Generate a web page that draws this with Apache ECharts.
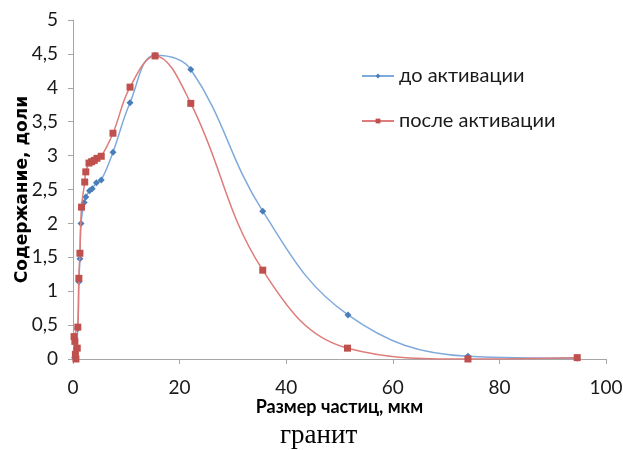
<!DOCTYPE html>
<html>
<head>
<meta charset="utf-8">
<script src="https://cdn.jsdelivr.net/npm/echarts@6/dist/echarts.min.js"></script>
<style>
  html, body { margin: 0; padding: 0; background: #fff; }
  #chart { width: 623px; height: 450px; }
</style>
</head>
<body>
<div id="chart"></div>
<script>
// до активации
const beforeX = [0.3, 0.6, 0.9, 1.1, 1.3, 1.5, 2.1, 2.4, 3.1, 3.6, 4.4, 5.3, 7.5, 10.7, 15.4, 22.1, 35.6, 51.6, 74.1, 94.6];
const beforeY = [0.02, 0.15, 0.45, 1.14, 1.48, 2.0, 2.31, 2.39, 2.48, 2.51, 2.6, 2.64, 3.05, 3.78, 4.48, 4.27, 2.18, 0.65, 0.04, 0.01];

// после активации
const afterX = [0.55, 0.45, 0.8, 0.35, 0.2, 0.9, 1.1, 1.3, 1.6, 2.2, 2.4, 3.0, 3.5, 4.0, 4.5, 5.3, 7.5, 10.7, 15.4, 22.1, 35.6, 51.5, 74.1, 94.6];
const afterY = [0.0, 0.07, 0.16, 0.26, 0.33, 0.47, 1.19, 1.56, 2.24, 2.61, 2.76, 2.89, 2.91, 2.93, 2.96, 2.99, 3.33, 4.01, 4.47, 3.77, 1.31, 0.16, 0.0, 0.02];

const seriesNames = ["до активации", "после активации"];
const xTicks = [0, 20, 40, 60, 80, 100];

const chart = echarts.init(document.getElementById("chart"));

const pairs = (xs, ys) => xs.map((x, i) => [x, ys[i]]);

const option = {
  animation: false,
  title: {
    text: "гранит",
    left: 275,
    top: 417,
    textStyle: { fontFamily: "Liberation Serif", fontSize: 27, fontWeight: "normal", color: "#000" },
  },
  legend: {
    orient: "vertical",
    left: 356,
    top: 61,
    itemGap: 25,
    itemWidth: 32,
    itemHeight: 6,
    textStyle: { fontFamily: "Lato", fontSize: 20, color: "#1a1a1a" },
    data: seriesNames,
  },
  grid: { left: 73, right: 17, top: 20, bottom: 91, outerBoundsMode: "none" },
  xAxis: {
    type: "value",
    min: xTicks[0],
    max: xTicks[xTicks.length - 1],
    interval: 20,
    name: "Размер частиц, мкм",
    nameLocation: "middle",
    nameMoveOverlap: false,
    nameGap: 39,
    nameTextStyle: { fontFamily: "Lato", fontWeight: "bold", fontSize: 18, color: "#000" },
    axisLine: { lineStyle: { color: "#a6a6a6" } },
    axisTick: { show: true, length: 5, lineStyle: { color: "#a6a6a6" } },
    axisLabel: { fontFamily: "Lato", fontSize: 19, color: "#1a1a1a", margin: 19 },
    splitLine: { show: false },
  },
  yAxis: {
    type: "value",
    min: 0,
    max: 5,
    interval: 0.5,
    name: "Содержание, доли",
    nameLocation: "middle",
    nameMoveOverlap: false,
    nameGap: 42,
    nameTextStyle: { fontFamily: "DejaVu Sans", fontWeight: "bold", fontSize: 17, color: "#000" },
    axisLine: { show: true, lineStyle: { color: "#a6a6a6" } },
    axisTick: { show: true, length: 5, lineStyle: { color: "#a6a6a6" } },
    axisLabel: {
      fontFamily: "Lato",
      fontSize: 19,
      color: "#1a1a1a",
      margin: 15,
      formatter: (v) => String(v).replace(".", ","),
    },
    splitLine: { show: false },
  },
  series: [
    {
      name: seriesNames[0],
      type: "line",
      smooth: 0.4,
      symbol: "diamond",
      symbolSize: 7,
      itemStyle: { color: "#4a7ebb" },
      lineStyle: { color: "#7fabdc", width: 1.5 },
      data: pairs(beforeX, beforeY),
      z: 2,
    },
    {
      name: seriesNames[1],
      type: "line",
      smooth: 0.4,
      symbol: "rect",
      symbolSize: 7,
      itemStyle: { color: "#c0504d" },
      lineStyle: { color: "#dd7c7a", width: 1.5 },
      data: pairs(afterX, afterY),
      z: 3,
    },
  ],
};

chart.setOption(option);
</script>
</body>
</html>
